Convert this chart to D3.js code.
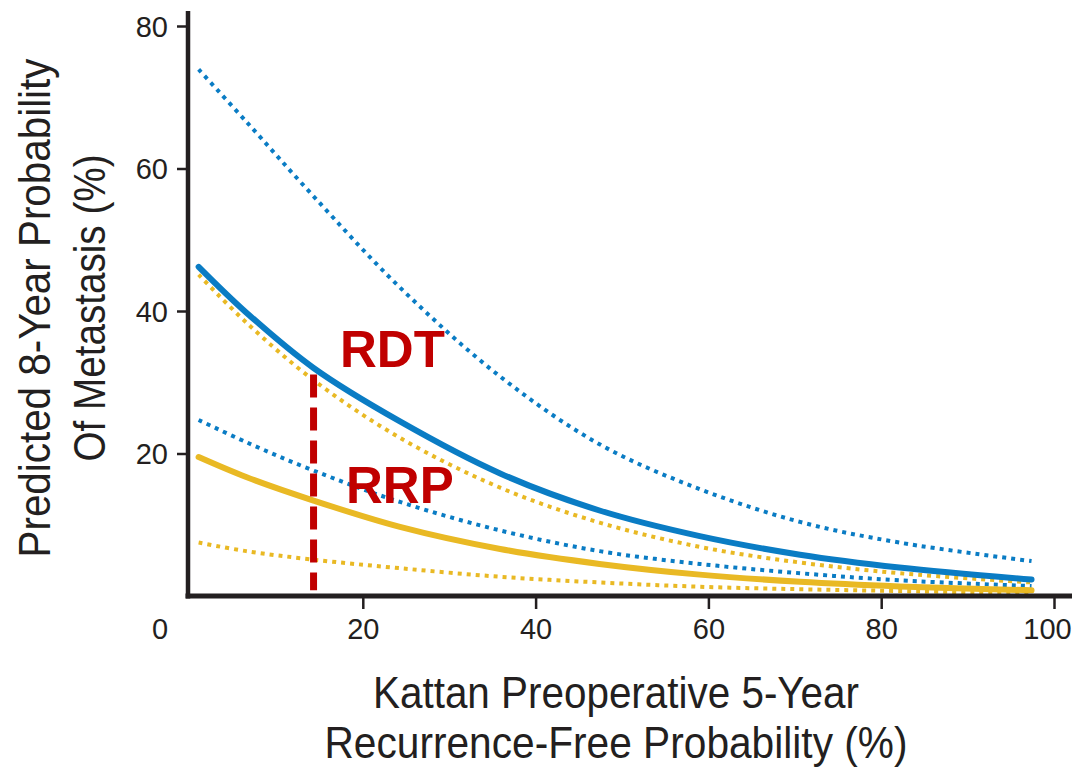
<!DOCTYPE html>
<html>
<head>
<meta charset="utf-8">
<script src="https://cdn.jsdelivr.net/npm/d3@7"></script>
<style>
  html, body { margin: 0; padding: 0; background: #fff; }
  svg { display: block; }
</style>
</head>
<body>
<svg id="chart" width="1072" height="769"></svg>
<script>
// ---- data ----
const xPoints = [1, 6.5, 14.3, 24.3, 35.9, 47.4, 59, 70.6, 82.1, 97.4];
const rdtEstimate = [46.2, 39.8, 32.0, 24.5, 17.2, 12.0, 8.4, 5.8, 4.0, 2.3];
const rdtUpper    = [73.9, 66.6, 56.1, 43.3, 30.8, 21.3, 15.0, 10.4, 7.5, 4.9];
const rdtLower    = [24.7, 21.6, 17.6, 13.2, 9.2, 6.3, 4.5, 3.2, 2.2, 1.4];
const rrpEstimate = [19.5, 16.7, 13.4, 9.7, 6.6, 4.5, 3.0, 2.0, 1.35, 0.8];
const rrpUpper    = [45.1, 38.4, 30.3, 22.2, 15.2, 10.3, 6.9, 4.7, 3.2, 1.9];
const rrpLower    = [7.5, 6.3, 5.1, 3.9, 2.7, 1.9, 1.3, 0.95, 0.7, 0.4];
const xTicks = [20, 40, 60, 80, 100];
const yTicks = [20, 40, 60, 80];
const originLabel = "0";
const markerX = 14.3;
const markerY = [31.1, 0.8];
const groupLabels = ["RDT", "RRP"];
const xTitle = ["Kattan Preoperative 5-Year", "Recurrence-Free Probability (%)"];
const yTitle = ["Predicted 8-Year Probability", "Of Metastasis (%)"];

// ---- chart ----
const svg = d3.select("#chart");
const x = d3.scaleLinear().domain([0, 100]).range([190, 1054]);
const y = d3.scaleLinear().domain([0, 80]).range([596, 26]);

const BLUE = "#0a7cc4", GOLD = "#e9b924", RED = "#c00000", INK = "#231f20";
const tickFont = "'Liberation Sans', Arial, sans-serif";
const titleFont = "'Liberation Sans Narrow', 'Arial Narrow', 'Liberation Sans', sans-serif";

const line = d3.line().x((d, i) => x(xPoints[i])).y(d => y(d)).curve(d3.curveCatmullRom.alpha(0.5));

const series = [
  { v: rdtUpper, color: BLUE, dotted: true },
  { v: rrpUpper, color: GOLD, dotted: true },
  { v: rdtLower, color: BLUE, dotted: true },
  { v: rrpLower, color: GOLD, dotted: true },
  { v: rrpEstimate, color: GOLD, dotted: false },
  { v: rdtEstimate, color: BLUE, dotted: false }
];

svg.append("g").selectAll("path").data(series).join("path")
  .attr("d", d => line(d.v))
  .attr("fill", "none")
  .attr("stroke", d => d.color)
  .attr("stroke-width", d => d.dotted ? 4 : 6)
  .attr("stroke-linecap", d => d.dotted ? "butt" : "round")
  .attr("stroke-dasharray", d => d.dotted ? "4 5" : null);

// red dashed marker
svg.append("line")
  .attr("x1", x(markerX)).attr("x2", x(markerX))
  .attr("y1", y(markerY[0])).attr("y2", y(markerY[1]))
  .attr("stroke", RED).attr("stroke-width", 7)
  .attr("stroke-dasharray", "23 10");

// group labels
svg.append("text").text(groupLabels[0])
  .attr("x", 340).attr("y", 367)
  .attr("font-family", tickFont).attr("font-weight", "bold")
  .attr("font-size", 51).attr("fill", RED);
svg.append("text").text(groupLabels[1])
  .attr("x", 346).attr("y", 503)
  .attr("font-family", tickFont).attr("font-weight", "bold")
  .attr("font-size", 51).attr("fill", RED);

// axes
const yAxis = svg.append("g").attr("transform", `translate(${x(0) - 2},0)`)
  .call(d3.axisLeft(y).tickValues(yTicks).tickSize(11).tickPadding(9).tickFormat(d3.format("d")));
yAxis.select(".domain").remove();
yAxis.selectAll(".tick line").attr("stroke", INK).attr("stroke-width", 2.5);
yAxis.selectAll(".tick text").attr("font-family", tickFont).attr("font-size", 29)
  .attr("fill", INK).attr("dy", "0.36em");

const xAxis = svg.append("g").attr("transform", `translate(0,${y(0)})`)
  .call(d3.axisBottom(x).tickValues(xTicks).tickSize(13).tickPadding(9).tickFormat(d3.format("d")));
xAxis.select(".domain").remove();
xAxis.selectAll(".tick line").attr("stroke", INK).attr("stroke-width", 2.5);
xAxis.selectAll(".tick text").attr("font-family", tickFont).attr("font-size", 29)
  .attr("fill", INK).attr("dy", "0.72em")
  .attr("dx", d => d === 100 ? -7 : 0);

// axis lines
svg.append("line").attr("x1", x(0) - 2).attr("x2", x(0) - 2).attr("y1", 11).attr("y2", y(0) + 2.5)
  .attr("stroke", INK).attr("stroke-width", 4.5);
svg.append("line").attr("x1", x(0) - 4.5).attr("x2", 1072).attr("y1", y(0)).attr("y2", y(0))
  .attr("stroke", INK).attr("stroke-width", 5);

// origin label
svg.append("text").text(originLabel)
  .attr("x", x(0) - 30).attr("y", 639)
  .attr("text-anchor", "middle")
  .attr("font-family", tickFont).attr("font-size", 29).attr("fill", INK);

// x title
const xTitleLen = [486, 583];
const xTitleY = [708, 758];
xTitle.forEach((t, i) => {
  svg.append("text").text(t)
    .attr("x", 616).attr("y", xTitleY[i])
    .attr("text-anchor", "middle")
    .attr("font-family", titleFont).attr("font-size", 45).attr("fill", INK)
    .attr("textLength", xTitleLen[i]).attr("lengthAdjust", "spacingAndGlyphs");
});

// y title
const yTitleLen = [499, 307];
const yTitleX = [50, 105];
yTitle.forEach((t, i) => {
  svg.append("text").text(t)
    .attr("transform", `translate(${yTitleX[i]},308) rotate(-90)`)
    .attr("text-anchor", "middle")
    .attr("font-family", titleFont).attr("font-size", 45).attr("fill", INK)
    .attr("textLength", yTitleLen[i]).attr("lengthAdjust", "spacingAndGlyphs");
});
</script>
</body>
</html>
